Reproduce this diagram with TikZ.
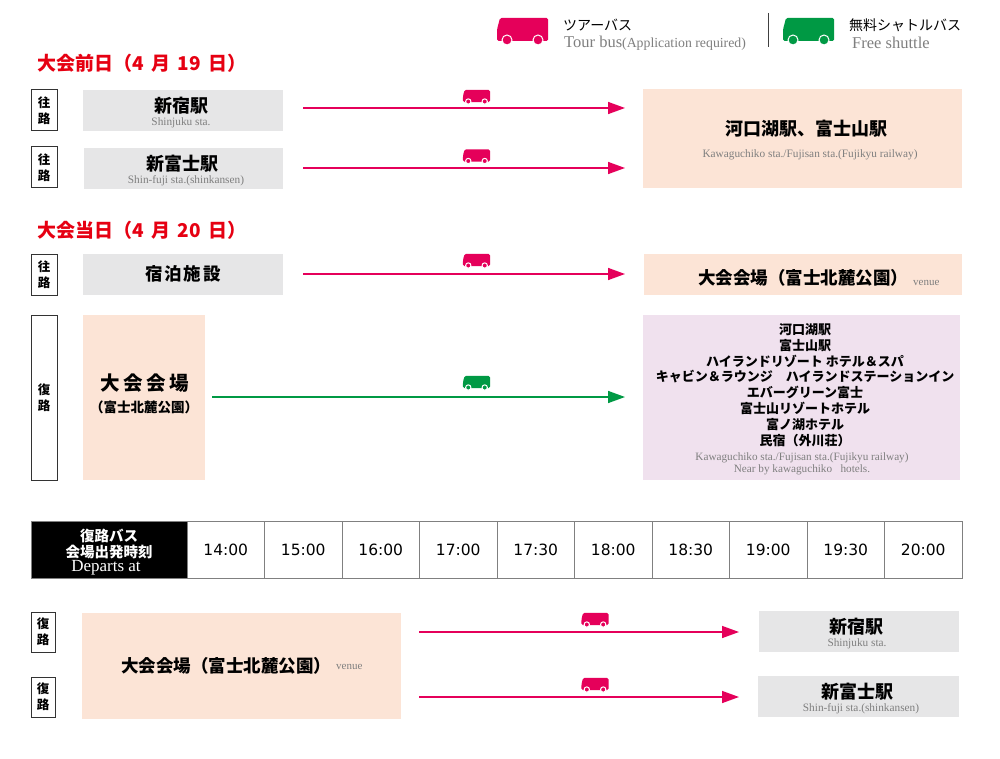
\documentclass[tikz,border=0pt]{standalone}
\usepackage{fontspec}
\setmainfont{Liberation Serif}
\newfontfamily\jp{Noto Sans CJK JP}
\newfontfamily\digits{DejaVu Sans}
\usetikzlibrary{arrows.meta}
\definecolor{pinkbus}{HTML}{E5005A}
\definecolor{greenbus}{HTML}{009944}
\definecolor{titlered}{HTML}{E60012}
\definecolor{boxgray}{HTML}{E6E6E7}
\definecolor{peach}{HTML}{FCE4D6}
\definecolor{lilac}{HTML}{F0E1EE}
\definecolor{subgray}{HTML}{7F7F7F}
\definecolor{linegray}{HTML}{808080}
\newcommand{\tsp}{\hspace{7.5pt}}
\tikzset{
  lbl/.style={draw=black!80, line width=1pt, fill=white, inner sep=0pt,
    font=\jp\bfseries\fontsize{12.5}{16}\selectfont, align=center},
  gbox/.style={fill=boxgray, inner sep=0pt},
  pbox/.style={fill=peach, inner sep=0pt},
  mainjp/.style={font=\jp\bfseries\fontsize{18}{20}\selectfont, inner sep=0pt},
  subtx/.style={font=\fontsize{11.3}{13}\selectfont, text=subgray, inner sep=0pt},
  venuetx/.style={font=\fontsize{11}{12}\selectfont, text=subgray, inner sep=0pt, anchor=base west},
  titletx/.style={font=\jp\bfseries\fontsize{19}{22}\selectfont, text=titlered, inner sep=0pt, anchor=west},
  pinkarrow/.style={draw=pinkbus, line width=1.5pt, -{Triangle[length=17pt,width=12pt]}},
  greenarrow/.style={draw=greenbus, line width=1.5pt, -{Triangle[length=17pt,width=12pt]}},
  tcell/.style={draw=linegray, line width=0.9pt, minimum width=77.5pt, minimum height=57pt,
    inner sep=0pt, font=\digits\fontsize{15.5}{18}\selectfont},
  pics/bus/.style={code={
    \fill[#1, rounded corners=1.5] (-25.5,9.5) -- (-25.5,-2) -- (-22.5,-13.5) -- (25.5,-13.5) -- (25.5,9.5) -- cycle;
    \filldraw[#1, draw=white, line width=1pt] (-15.5,8.5) circle (5) (15.5,8.5) circle (5);
  }}
}
\begin{document}
\begin{tikzpicture}[x=1pt,y=-1pt]
\useasboundingbox[fill=white] (0,0) rectangle (1000,759);

% ---------- legend ----------
\pic (legpink) at (522.5,31.5) {bus=pinkbus};
\node[font=\jp\fontsize{14}{16}\selectfont, anchor=west, inner sep=0pt] (legpinkjp) at (563,25) {ツアーバス};
\node[font=\fontsize{16.5}{18}\selectfont, text=subgray, anchor=west, inner sep=0pt] (legpinken) at (564,43) {Tour bus{\fontsize{13.8}{15}\selectfont(Application required)}};
\coordinate (divtop) at (768,13);
\coordinate (divbot) at (768,47);
\draw[line width=1pt, black!75] (divtop) -- (divbot);
\pic (leggreen) at (808.5,31.5) {bus=greenbus};
\node[font=\jp\fontsize{14}{16}\selectfont, anchor=west, inner sep=0pt] (leggreenjp) at (849,25) {無料シャトルバス};
\node[font=\fontsize{16.5}{18}\selectfont, text=subgray, anchor=west, inner sep=0pt] (leggreenen) at (852,43) {Free shuttle};

% ---------- day before ----------
\node[titletx] (title1) at (37,63) {大会前日（4\tsp 月\tsp 19\tsp 日）};

\node[lbl, minimum width=26pt, minimum height=41pt] (l1) at (44,110.5) {往\\路};
\node[gbox, minimum width=200pt, minimum height=41pt] (b1) at (183,110.5) {};
\node[mainjp] (b1t) at (181,105.5) {新宿駅};
\node[subtx] (b1s) at (181,122.5) {Shinjuku sta.};

\node[lbl, minimum width=26pt, minimum height=41pt] (l2) at (44,167.5) {往\\路};
\node[gbox, minimum width=199pt, minimum height=41pt] (b2) at (183.5,168.5) {};
\node[mainjp] (b2t) at (182,164) {新富士駅};
\node[subtx] (b2s) at (186,181) {Shin-fuji sta.(shinkansen)};

\node[pbox, minimum width=319pt, minimum height=99pt] (k1) at (802.5,138.5) {};
\node[mainjp] (k1t) at (806,128.5) {河口湖駅、富士山駅};
\node[subtx] (k1s) at (810,155) {Kawaguchiko sta./Fujisan sta.(Fujikyu railway)};

\coordinate (a1s) at (303,108); \coordinate (a1e) at (625,108);
\draw[pinkarrow] (a1s) -- (a1e);
\pic[scale=0.53] (bus1) at (476.5,97) {bus=pinkbus};
\coordinate (a2s) at (303,168); \coordinate (a2e) at (625,168);
\draw[pinkarrow] (a2s) -- (a2e);
\pic[scale=0.53] (bus2) at (476.5,156.5) {bus=pinkbus};

% ---------- event day ----------
\node[titletx] (title2) at (37,230) {大会当日（4\tsp 月\tsp 20\tsp 日）};

\node[lbl, minimum width=26pt, minimum height=41pt] (l3) at (44,274.5) {往\\路};
\node[gbox, minimum width=200pt, minimum height=41pt] (b3) at (183,274.5) {};
\node[mainjp, font=\jp\bfseries\fontsize{17.5}{20}\selectfont\addfontfeatures{LetterSpace=10}] (b3t) at (183,274) {宿泊施設};
\node[pbox, minimum width=318pt, minimum height=41pt] (v1) at (803,274.5) {};
\node[mainjp, font=\jp\bfseries\fontsize{17.5}{20}\selectfont] (v1t) at (803,278) {大会会場（富士北麓公園）};
\node[venuetx] (v1v) at (913,285) {venue};
\coordinate (a3s) at (303,274); \coordinate (a3e) at (625,274);
\draw[pinkarrow] (a3s) -- (a3e);
\pic[scale=0.53] (bus3) at (476.5,261) {bus=pinkbus};

\node[lbl, minimum width=26pt, minimum height=165pt] (l4) at (44,397.5) {復\\路};
\node[pbox, minimum width=122pt, minimum height=165pt] (v2) at (144,397.5) {};
\node[mainjp, font=\jp\bfseries\fontsize{19.5}{22}\selectfont\addfontfeatures{LetterSpace=18}] (v2t) at (145,383) {大会会場};
\node[mainjp, font=\jp\bfseries\fontsize{13.5}{15}\selectfont] (v2s) at (144,407) {（富士北麓公園）};
\node[fill=lilac, minimum width=317pt, minimum height=165pt, inner sep=0pt] (h1) at (801.5,397.5) {};
\node[font=\jp\bfseries\fontsize{13}{15.85}\selectfont, align=center, inner sep=0pt] (h1t) at (805,385) {河口湖駅\\富士山駅\\ハイランドリゾート ホテル＆スパ\\キャビン＆ラウンジ　ハイランドステーションイン\\エバーグリーン富士\\富士山リゾートホテル\\富ノ湖ホテル\\民宿（外川荘）};
\node[font=\fontsize{11.2}{12.5}\selectfont, text=subgray, align=center, inner sep=0pt] (h1s) at (802,464) {Kawaguchiko sta./Fujisan sta.(Fujikyu railway)\\Near by kawaguchiko\ \ \ hotels.};
\coordinate (a4s) at (212,397); \coordinate (a4e) at (625,397);
\draw[greenarrow] (a4s) -- (a4e);
\pic[scale=0.53] (bus4) at (476.5,383) {bus=greenbus};

% ---------- timetable ----------
\node[fill=black, draw=linegray, line width=0.9pt, minimum width=156pt, minimum height=57pt, inner sep=0pt] (th) at (109,549.5) {};
\node[text=white, font=\jp\bfseries\fontsize{14.5}{16}\selectfont, align=center, inner sep=0pt] (tht) at (109,544) {復路バス\\会場出発時刻};
\node[text=white, font=\fontsize{17}{18}\selectfont, inner sep=0pt] (ths) at (106,568) {Departs at};
\foreach \t [count=\i] in {14:00,15:00,16:00,17:00,17:30,18:00,18:30,19:00,19:30,20:00}{
  \node[tcell] (t\i) at ({187+77.5*(\i-0.5)},549.5) {\t};
}

% ---------- bottom ----------
\node[lbl, minimum width=24pt, minimum height=40pt] (l5) at (43,632) {復\\路};
\node[lbl, minimum width=24pt, minimum height=40pt] (l6) at (43,697) {復\\路};
\node[pbox, minimum width=319pt, minimum height=106pt] (v3) at (241.5,666) {};
\node[mainjp, font=\jp\bfseries\fontsize{17.5}{20}\selectfont] (v3t) at (226,666) {大会会場（富士北麓公園）};
\node[venuetx] (v3v) at (336,669) {venue};

\node[gbox, minimum width=200pt, minimum height=41pt] (b4) at (859,631.5) {};
\node[mainjp] (b4t) at (856,626.5) {新宿駅};
\node[subtx] (b4s) at (857,644) {Shinjuku sta.};
\node[gbox, minimum width=201pt, minimum height=41pt] (b5) at (858.5,696.5) {};
\node[mainjp] (b5t) at (857,691.5) {新富士駅};
\node[subtx] (b5s) at (861,709) {Shin-fuji sta.(shinkansen)};

\coordinate (a5s) at (419,632); \coordinate (a5e) at (739,632);
\draw[pinkarrow] (a5s) -- (a5e);
\pic[scale=0.53] (bus5) at (595,620) {bus=pinkbus};
\coordinate (a6s) at (419,697); \coordinate (a6e) at (739,697);
\draw[pinkarrow] (a6s) -- (a6e);
\pic[scale=0.53] (bus6) at (595,685) {bus=pinkbus};
\end{tikzpicture}
\end{document}
